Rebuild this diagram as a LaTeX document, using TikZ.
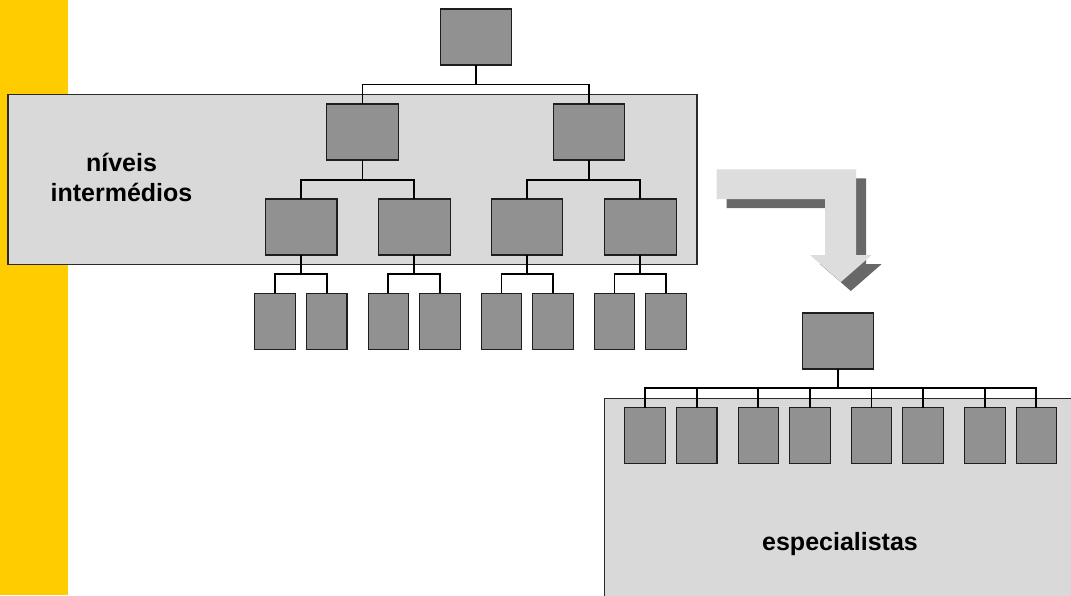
\documentclass[tikz,border=0pt]{standalone}
\usepackage{fontspec}
\setmainfont{Liberation Sans}
\definecolor{boxfill}{HTML}{919191}
\definecolor{boxline}{HTML}{1E1E1E}
\definecolor{panelgray}{HTML}{D9D9D9}
\definecolor{panelline}{HTML}{2A2A2A}
\definecolor{arrowlight}{HTML}{DDDDDD}
\definecolor{arrowshade}{HTML}{686868}
\definecolor{baryellow}{HTML}{FFCC00}
\begin{document}
\begin{tikzpicture}[x=1pt,y=-1pt,
  box/.style={draw=boxline, fill=boxfill, line width=1.1pt, inner sep=0pt, outer sep=0pt},
  big/.style={box, minimum width=71.5pt, minimum height=56pt},
  small/.style={box, minimum width=40.5pt, minimum height=56pt},
  conn/.style={draw=black, line width=1.8pt},
  panel/.style={fill=panelgray, draw=panelline, line width=1.1pt},
  lbl/.style={font=\fontsize{25}{30}\selectfont\bfseries, align=center, inner sep=0pt, outer sep=0pt}]
\useasboundingbox (0,0) rectangle (1071,595);
\clip (0,0) rectangle (1071,595);
\fill[white] (0,0) rectangle (1071,595);
% yellow bar
\fill[baryellow] (0,0) rectangle (68,595);
% panels
\path[panel] (8,94.5) rectangle (697,264.5);
\path[panel] (604.7,398.5) rectangle (1090,615);
% bent arrow: shadow then light
\fill[arrowshade] (726.7,178.3) -- (866,178.3) -- (866,264) -- (881.7,264) -- (850.8,291) -- (820,264) -- (835,264) -- (835,208) -- (726.7,208) -- cycle;
\fill[arrowlight] (716.7,169.3) -- (856,169.3) -- (856,255) -- (871.7,255) -- (840.8,282) -- (810,255) -- (825,255) -- (825,199) -- (716.7,199) -- cycle;
% upper tree
\node[big] (top) at (475.8,37) {};
\node[big] (l2a) at (362.5,132) {};
\node[big] (l2b) at (588.8,132) {};
\node[big] (l3a) at (301.2,227) {};
\node[big] (l3b) at (414.3,227) {};
\node[big] (l3c) at (527,227) {};
\node[big] (l3d) at (640.3,227) {};
\foreach \n/\x in {1/275,2/326.7,3/388.3,4/440,5/501.5,6/553,7/614.5,8/666}
  \node[small] (l4\n) at (\x,321.3) {};
\draw[conn] (top.south) -- ++(0,19.5) -| (l2a.north);
\draw[conn] (top.south) -- ++(0,19.5) -| (l2b.north);
\draw[conn] (l2a.south) -- ++(0,20) -| (l3a.north);
\draw[conn] (l2a.south) -- ++(0,20) -| (l3b.north);
\draw[conn] (l2b.south) -- ++(0,20) -| (l3c.north);
\draw[conn] (l2b.south) -- ++(0,20) -| (l3d.north);
\draw[conn] (l3a.south) -- ++(0,19) -| (l41.north);
\draw[conn] (l3a.south) -- ++(0,19) -| (l42.north);
\draw[conn] (l3b.south) -- ++(0,19) -| (l43.north);
\draw[conn] (l3b.south) -- ++(0,19) -| (l44.north);
\draw[conn] (l3c.south) -- ++(0,19) -| (l45.north);
\draw[conn] (l3c.south) -- ++(0,19) -| (l46.north);
\draw[conn] (l3d.south) -- ++(0,19) -| (l47.north);
\draw[conn] (l3d.south) -- ++(0,19) -| (l48.north);
% lower tree
\node[big] (flat) at (838,341) {};
\foreach \n/\x in {1/645,2/696.7,3/758.3,4/810,5/871.5,6/923,7/984.8,8/1036.3}
  \node[small] (sp\n) at (\x,435.7) {};
\foreach \n in {1,...,8}
  \draw[conn] (flat.south) -- ++(0,18.7) -| (sp\n.north);
% labels
\node[lbl, anchor=south] (lblmid) at (121.5,201.7) {níveis\\intermédios};
\node[lbl, anchor=base] (lblspec) at (840,550.7) {especialistas};
\end{tikzpicture}
\end{document}
